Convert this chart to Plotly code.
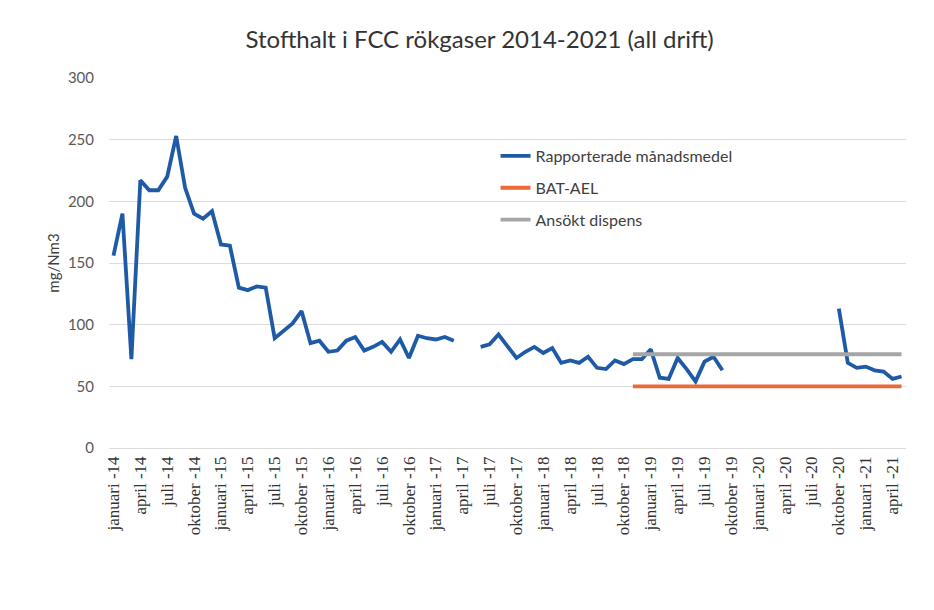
import plotly.graph_objects as go

month_names = ["januari", "februari", "mars", "april", "maj", "juni", "juli",
               "augusti", "september", "oktober", "november", "december"]
years = [14, 15, 16, 17, 18, 19, 20, 21]
months = [f"{m} -{y}" for y in years for m in month_names][:89]  # januari -14 .. maj -21

# Rapporterade månadsmedel (mg/Nm3), None = no value reported
reported = [
    156, 190, 72, 217, 209, 209, 220, 253, 211, 190, 186, 192,          # 2014
    165, 164, 130, 128, 131, 130, 89, 95, 101, 111, 85, 87,             # 2015
    78, 79, 87, 90, 79, 82, 86, 78, 88, 73, 91, 89,                     # 2016
    88, 90, 87, None, None, 82, 84, 92, 82, 73, 78, 82,                 # 2017
    77, 81, 69, 71, 69, 74, 65, 64, 71, 68, 72, 72,                     # 2018
    80, 57, 56, 73, 64, 54, 70, 74, 63, None, None, None,               # 2019
    None, None, None, None, None, None, None, None, None, 113, 69, 65,  # 2020
    66, 63, 62, 56, 58,                                                 # 2021
]

bat_ael_start = "november -18"
bat_ael_value = 50
dispens_value = 76

start_idx = months.index(bat_ael_start)
bat_ael = [bat_ael_value if i >= start_idx else None for i in range(len(months))]
dispens = [dispens_value if i >= start_idx else None for i in range(len(months))]

tick_labels = months[::3]

fig = go.Figure()
fig.add_trace(go.Scatter(x=months, y=reported, mode="lines", name="Rapporterade månadsmedel",
                         line=dict(color="#1f5aa6", width=3.8), connectgaps=False,
                         legendgroup="a"))
fig.add_trace(go.Scatter(x=months, y=bat_ael, mode="lines", name="BAT-AEL",
                         line=dict(color="#ec6a35", width=3.8), legendgroup="b"))
fig.add_trace(go.Scatter(x=months, y=dispens, mode="lines", name="Ansökt dispens",
                         line=dict(color="#a6a6a6", width=3.8), legendgroup="c"))

fig.update_layout(
    width=934, height=610,
    margin=dict(l=101, r=36, t=70, b=170),
    paper_bgcolor="white", plot_bgcolor="white",
    font=dict(family="Lato, Open Sans, sans-serif", color="#404040"),
    title=dict(text="Stofthalt i FCC rökgaser 2014-2021 (all drift)",
               x=0.505, xanchor="center", y=0.948, yanchor="middle",
               font=dict(size=24, color="#333333", family="Lato, sans-serif")),
    showlegend=True,
    legend=dict(x=0.485, y=0.835, xanchor="left", yanchor="top",
                bgcolor="rgba(0,0,0,0)", font=dict(size=16, color="#404040"),
                tracegroupgap=8, traceorder="grouped"),
    xaxis=dict(type="category", categoryorder="array", categoryarray=months,
               range=[-0.5, len(months) - 0.5],
               tickmode="array", tickvals=tick_labels, ticktext=tick_labels,
               tickangle=-90, showgrid=False, showline=False, ticks="",
               ticklabelstandoff=4,
               tickfont=dict(family="Liberation Serif, Times New Roman, serif",
                             size=17, color="#333333")),
    yaxis=dict(range=[0, 300], tickvals=[0, 50, 100, 150, 200, 250, 300],
               showgrid=True, gridcolor="#dcdcdc", gridwidth=1,
               zeroline=True, zerolinecolor="#dcdcdc", zerolinewidth=1,
               showline=False, ticks="", ticklabelstandoff=14,
               tickfont=dict(size=15, color="#595959"),
               title=dict(text="mg/Nm3", standoff=4,
                          font=dict(size=15, color="#404040"))),
)

fig.write_html("out.html")
